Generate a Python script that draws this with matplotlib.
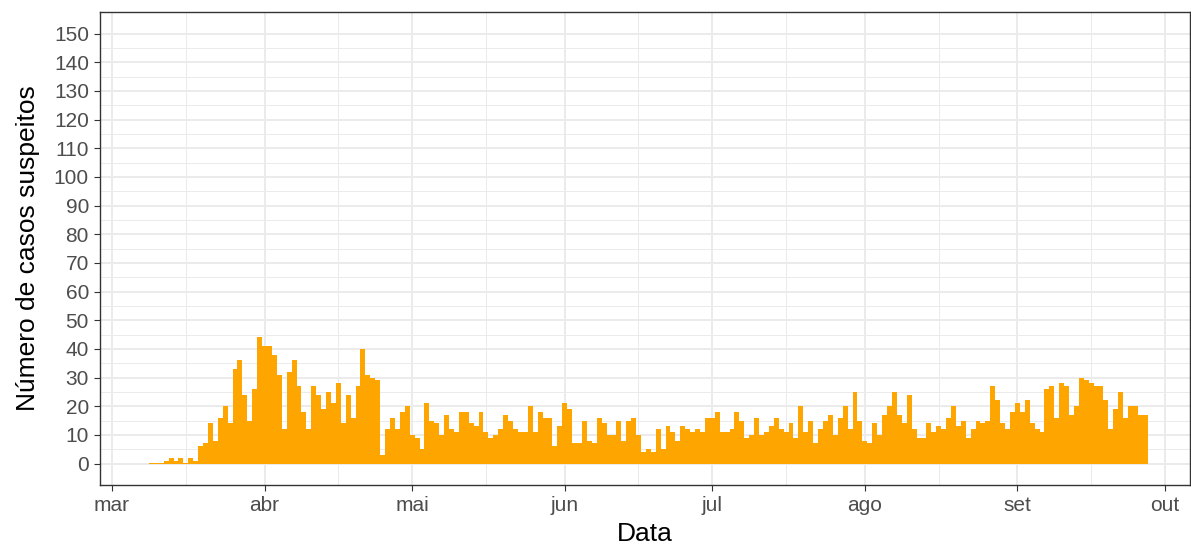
import matplotlib
matplotlib.use('Agg')
import matplotlib.pyplot as plt
import matplotlib.dates as mdates
import numpy as np
import pandas as pd

plt.rcParams['font.family'] = ['Liberation Sans', 'DejaVu Sans']

# daily suspected cases, 9 mar -> 27 set
start_date = '2020-03-09'
casos_mar = [0.3, 0.3, 0.3, 1, 2, 1, 2, 0.3, 2, 1, 6, 7, 14, 8, 16, 20, 14, 33, 36, 24, 15, 26, 44]
casos_abr = [41, 41, 38, 31, 12, 32, 36, 27, 18, 12, 27, 24, 19, 25, 21, 28, 14, 24, 16, 27,
             40, 31, 30, 29, 3, 12, 16, 12, 18, 20]
casos_mai = [10, 9, 5, 21, 15, 14, 10, 17, 12, 11, 18, 18, 14, 13, 18, 11, 9, 10, 12, 17,
             15, 12, 11, 11, 20, 11, 18, 16, 16, 6, 13]
casos_jun = [21, 19, 7, 7, 15, 8, 7, 16, 14, 10, 10, 15, 8, 15, 16, 10, 4, 5, 4, 12,
             5, 13, 11, 8, 13, 12, 11, 12, 11, 16]
casos_jul = [16, 18, 11, 11, 12, 18, 15, 9, 10, 16, 10, 11, 13, 16, 12, 11, 14, 9, 20, 11,
             15, 7, 12, 15, 17, 10, 16, 20, 12, 25, 15]
casos_ago = [8, 7, 14, 10, 17, 20, 25, 17, 14, 24, 12, 9, 9, 14, 11, 13, 12, 16, 20, 13,
             15, 9, 12, 15, 14, 15, 27, 22, 14, 12, 18]
casos_set = [21, 18, 22, 14, 12, 11, 26, 27, 16, 28, 27, 17, 20, 30, 29, 28, 27, 27, 22, 12,
             19, 25, 16, 20, 20, 17, 17]

month_labels = ['mar', 'abr', 'mai', 'jun', 'jul', 'ago', 'set', 'out']
month_starts = pd.date_range('2020-03-01', '2020-10-01', freq='MS')

casos = casos_mar + casos_abr + casos_mai + casos_jun + casos_jul + casos_ago + casos_set
datas = pd.date_range(start_date, periods=len(casos), freq='D')

fig = plt.figure(figsize=(11.91, 5.49), dpi=100)
ax = fig.add_axes([100/1191, 1 - 485/549, 1090/1191, 473/549])

ax.bar(mdates.date2num(datas), casos, width=1.0, color='#FFA500', linewidth=0, zorder=3)

# axes limits (ggplot-like expansion)
ax.set_xlim(mdates.date2num(pd.Timestamp('2020-02-27 13:30')),
            mdates.date2num(pd.Timestamp('2020-10-06 02:00')))
ax.set_ylim(-7.5, 157.5)

ax.set_xticks(mdates.date2num(month_starts))
ax.set_xticklabels(month_labels)
mid_month = [d + pd.Timedelta(days=15) for d in month_starts[:-1]]
ax.set_xticks(mdates.date2num(mid_month), minor=True)

ax.set_yticks(np.arange(0, 151, 10))
ax.set_yticks(np.arange(5, 151, 10), minor=True)

ax.grid(True, which='major', color='#EBEBEB', linewidth=1.4, zorder=0)
ax.grid(True, which='minor', color='#EBEBEB', linewidth=0.7, zorder=0)
ax.set_axisbelow(True)

ax.tick_params(which='major', length=4, width=0.8, color='#333333',
               labelsize=15, labelcolor='#4D4D4D', pad=4)
ax.tick_params(which='minor', length=0)
for s in ax.spines.values():
    s.set_color('#333333')
    s.set_linewidth(1.0)

ax.set_xlabel('Data', fontsize=19, labelpad=5)
ax.set_ylabel('Número de casos suspeitos', fontsize=19, labelpad=10)

fig.savefig('out.png', dpi=100)
